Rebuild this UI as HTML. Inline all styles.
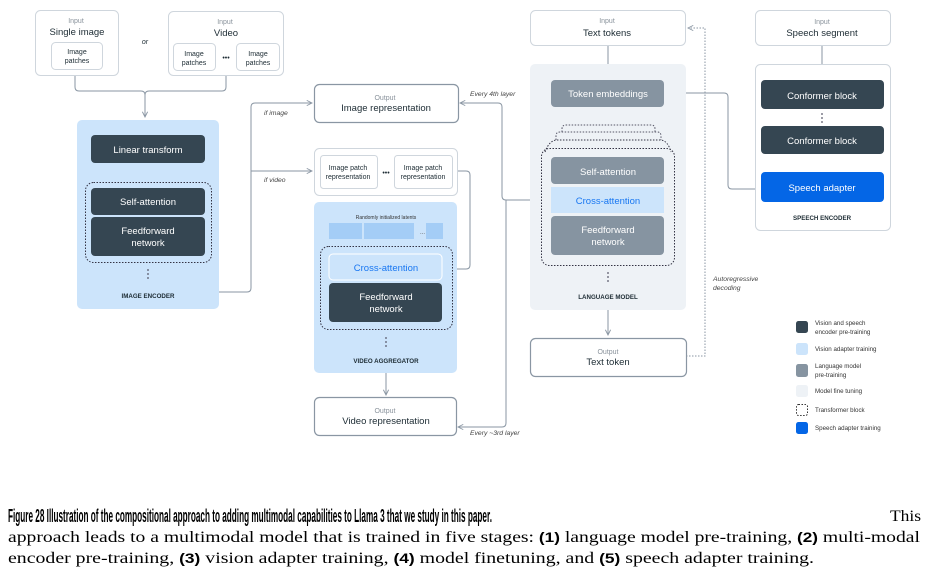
<!DOCTYPE html>
<html><head><meta charset="utf-8"><style>
html,body{margin:0;padding:0;background:#fff;}
svg{display:block;font-family:"Liberation Sans",sans-serif;}
</style></head><body>
<svg width="929" height="570" viewBox="0 0 929 570" xmlns="http://www.w3.org/2000/svg">
<defs>
<marker id="a" viewBox="0 0 8 8" refX="7" refY="4" markerWidth="7" markerHeight="7" orient="auto-start-reverse"><path d="M1,1 L7,4 L1,7" fill="none" stroke="#8a96a3" stroke-width="1"/></marker>
</defs>
<g fill="none" stroke="#8a96a3" stroke-width="1">
<path d="M75,75 V87 Q75,91 79,91 H141 Q145,91 145,95 V117" marker-end="url(#a)"/>
<path d="M226,75 V87 Q226,91 222,91 H149 Q145,91 145,95"/>
<path d="M219,292 H247 Q251,292 251,288 V107 Q251,103 255,103 H312" marker-end="url(#a)"/>
<path d="M251,171 H312" marker-end="url(#a)"/>
<path d="M457,171 H466 Q470,171 470,175 V265 Q470,269 466,269 H444" marker-end="url(#a)"/>
<path d="M386,373 V395" marker-end="url(#a)"/>
<path d="M549,200 H506 Q502,200 502,196 V107 Q502,103 498,103 H460" marker-end="url(#a)"/>
<path d="M506,200 V423 Q506,427 502,427 H458" marker-end="url(#a)"/>
<path d="M506,200 H549" marker-end="url(#a)"/>
<path d="M608,45 V77" marker-end="url(#a)"/>
<path d="M608,107 V120" marker-end="url(#a)"/>
<path d="M608,310 V335" marker-end="url(#a)"/>
<path d="M822,45 V77" marker-end="url(#a)"/>
<path d="M822,154 V169" marker-end="url(#a)"/>
<path d="M148,163 V178" marker-end="url(#a)"/>
<path d="M761,189 H732 Q728,189 728,185 V97 Q728,93 724,93 H666" marker-end="url(#a)"/>
<path d="M686,356 H705 V28 H688" stroke-dasharray="1.5,1.5" marker-end="url(#a)"/>
</g>
<g fill="#fff" stroke="#cfd6dd" stroke-width="1">
<rect x="35.5" y="10.5" width="83" height="65" rx="5"/>
<rect x="51.5" y="42.5" width="51" height="27" rx="4"/>
<rect x="168.5" y="11.5" width="115" height="64" rx="5"/>
<rect x="173.5" y="43.5" width="42" height="27" rx="4"/>
<rect x="236.5" y="43.5" width="43" height="27" rx="4"/>
<rect x="530.5" y="10.5" width="155" height="35" rx="5"/>
<rect x="755.5" y="10.5" width="135" height="35" rx="5"/>
<rect x="755.5" y="64.5" width="135" height="166" rx="5"/>
<rect x="314.5" y="148.5" width="143" height="47" rx="5"/>
<rect x="320.5" y="155.5" width="57" height="33" rx="3"/>
<rect x="394.5" y="155.5" width="58" height="33" rx="3"/>
</g>
<g fill="#fff" stroke="#8a96a3" stroke-width="1.2">
<rect x="314.5" y="84.5" width="144" height="38" rx="5"/>
<rect x="314.5" y="397.5" width="142" height="38" rx="5"/>
<rect x="530.5" y="338.5" width="156" height="38" rx="5"/>
</g>
<rect x="77" y="120" width="142" height="189" rx="5" fill="#cce4fb"/>
<rect x="314" y="202" width="143" height="171" rx="5" fill="#cce4fb"/>
<rect x="530" y="64" width="156" height="246" rx="5" fill="#eef2f6"/>
<rect x="91" y="135" width="114" height="28" rx="4" fill="#354652"/>
<rect x="85.5" y="182.5" width="126" height="80" rx="8" fill="none" stroke="#334" stroke-dasharray="1.5,1.5"/>
<rect x="91" y="188" width="114" height="27" rx="4" fill="#354652"/>
<rect x="91" y="217" width="114" height="39" rx="4" fill="#354652"/>
<rect x="329" y="223" width="33" height="16" fill="#a4cdf6"/>
<rect x="364" y="223" width="50" height="16" fill="#a4cdf6"/>
<rect x="426" y="223" width="17" height="16" fill="#a4cdf6"/>
<rect x="320.5" y="246.5" width="132" height="83" rx="8" fill="none" stroke="#334" stroke-dasharray="1.5,1.5"/>
<rect x="329" y="254" width="113" height="26" rx="4" fill="#cce4fb" stroke="#fff"/>
<rect x="329" y="283" width="113" height="39" rx="4" fill="#354652"/>
<rect x="551" y="80" width="113" height="27" rx="4" fill="#8694a1"/>
<path d="M562,132 V129 Q562,125 566,125 H651 Q655,125 655,129 V132" fill="none" stroke="#556" stroke-dasharray="1.5,1.5"/>
<path d="M556,140 V136 Q556,132 560,132 H657 Q661,132 661,136 V140" fill="none" stroke="#556" stroke-dasharray="1.5,1.5"/>
<rect x="541.5" y="148.5" width="133" height="117" rx="8" fill="none" stroke="#334" stroke-dasharray="1.5,1.5"/>
<path d="M545,152 Q549,141 556,140 H661 Q668,141 671,152" fill="none" stroke="#334" stroke-dasharray="1.5,1.5"/>
<rect x="551" y="157" width="113" height="27" rx="4" fill="#8694a1"/>
<rect x="551" y="187" width="113" height="26" fill="#cce4fb"/>
<rect x="551" y="216" width="113" height="39" rx="4" fill="#8694a1"/>
<rect x="761" y="80" width="123" height="29" rx="4" fill="#354652"/>
<rect x="761" y="126" width="123" height="28" rx="4" fill="#354652"/>
<rect x="761" y="172" width="123" height="30" rx="4" fill="#0466e6"/>
<g fill="#556">
<circle cx="148" cy="270" r="0.9"/><circle cx="148" cy="274" r="0.9"/><circle cx="148" cy="278" r="0.9"/>
<circle cx="386" cy="338" r="0.9"/><circle cx="386" cy="342" r="0.9"/><circle cx="386" cy="346" r="0.9"/>
<circle cx="608" cy="273" r="0.9"/><circle cx="608" cy="277" r="0.9"/><circle cx="608" cy="281" r="0.9"/>
<circle cx="822" cy="114" r="0.9"/><circle cx="822" cy="118" r="0.9"/><circle cx="822" cy="122" r="0.9"/>
</g>
<g text-anchor="middle" fill="#8a939c" font-size="7">
<text x="76" y="23">Input</text><text x="225" y="24">Input</text>
<text x="607" y="23">Input</text><text x="822" y="24">Input</text>
<text x="385" y="100">Output</text><text x="385" y="413">Output</text><text x="608" y="354">Output</text>
</g>
<g text-anchor="middle" fill="#1c2b33" font-size="9.5">
<text x="77" y="35">Single image</text><text x="226" y="36">Video</text>
<text x="607" y="36">Text tokens</text><text x="822" y="36">Speech segment</text>
<text x="386" y="111">Image representation</text><text x="386" y="424">Video representation</text>
<text x="608" y="365">Text token</text>
</g>
<g text-anchor="middle" fill="#1c2b33" font-size="7">
<text x="77" y="54">Image</text><text x="77" y="63">patches</text>
<text x="194" y="56">Image</text><text x="194" y="65">patches</text>
<text x="258" y="56">Image</text><text x="258" y="65">patches</text>
<text x="348" y="170">Image patch</text><text x="348" y="179">representation</text>
<text x="423" y="170">Image patch</text><text x="423" y="179">representation</text>
<text x="145" y="44" font-style="italic">or</text>
<text x="226" y="60">•••</text><text x="386" y="175">•••</text>
</g>
<g text-anchor="middle" fill="#fff" font-size="9.5">
<text x="148" y="153">Linear transform</text>
<text x="148" y="205">Self-attention</text>
<text x="148" y="234">Feedforward</text><text x="148" y="246">network</text>
<text x="386" y="300">Feedforward</text><text x="386" y="312">network</text>
<text x="608" y="97">Token embeddings</text>
<text x="608" y="175">Self-attention</text>
<text x="608" y="233">Feedforward</text><text x="608" y="245">network</text>
<text x="822" y="99">Conformer block</text>
<text x="822" y="144">Conformer block</text>
<text x="822" y="191">Speech adapter</text>
</g>
<g text-anchor="middle" fill="#1877f2" font-size="9.5">
<text x="386" y="271">Cross-attention</text>
<text x="608" y="204">Cross-attention</text>
</g>
<g text-anchor="middle" fill="#1c2b33" font-size="6.2" font-weight="bold">
<text x="148" y="298">IMAGE ENCODER</text>
<text x="386" y="363">VIDEO AGGREGATOR</text>
<text x="608" y="299">LANGUAGE MODEL</text>
<text x="822" y="220">SPEECH ENCODER</text>
</g>
<text x="386" y="219" text-anchor="middle" font-size="5" fill="#333">Randomly initialized latents</text>
<text x="420" y="234" font-size="6" fill="#555">...</text>
<g fill="#444" font-size="6.8" font-style="italic">
<text x="264" y="115">if image</text><text x="264" y="182">if video</text>
<text x="470" y="96">Every 4th layer</text><text x="470" y="435">Every ~3rd layer</text>
<text x="713" y="281">Autoregressive</text><text x="713" y="290">decoding</text>
</g>
<rect x="796" y="321" width="12" height="12" rx="2.5" fill="#354652"/>
<rect x="796" y="343" width="12" height="12" rx="2.5" fill="#cce4fb"/>
<rect x="796" y="364" width="12" height="13" rx="2.5" fill="#8694a1"/>
<rect x="796" y="385" width="12" height="12" rx="2.5" fill="#eef2f6"/>
<rect x="796.5" y="404.5" width="11" height="11" rx="2" fill="none" stroke="#333" stroke-dasharray="1.5,1.5"/>
<rect x="796" y="422" width="12" height="12" rx="2.5" fill="#0466e6"/>
<g fill="#333" font-size="6.2">
<text x="815" y="325">Vision and speech</text><text x="815" y="334">encoder pre-training</text>
<text x="815" y="351">Vision adapter training</text>
<text x="815" y="368">Language model</text><text x="815" y="377">pre-training</text>
<text x="815" y="393">Model fine tuning</text>
<text x="815" y="412">Transformer block</text>
<text x="815" y="430">Speech adapter training</text>
</g>
<text x="8" y="522" font-size="18" font-weight="bold" fill="#000" textLength="484" lengthAdjust="spacingAndGlyphs">Figure 28  Illustration of the compositional approach to adding multimodal capabilities to Llama 3 that we study in this paper.</text>
<g font-family="'Liberation Serif',serif" font-size="16" fill="#000">
<text x="890" y="521" textLength="31" lengthAdjust="spacingAndGlyphs">This</text>
<text x="8" y="542" textLength="912" lengthAdjust="spacingAndGlyphs">approach leads to a multimodal model that is trained in five stages: <tspan font-family="'Liberation Sans',sans-serif" font-weight="bold" font-size="14">(1)</tspan> language model pre-training, <tspan font-family="'Liberation Sans',sans-serif" font-weight="bold" font-size="14">(2)</tspan> multi-modal</text>
<text x="8" y="563" textLength="806" lengthAdjust="spacingAndGlyphs">encoder pre-training, <tspan font-family="'Liberation Sans',sans-serif" font-weight="bold" font-size="14">(3)</tspan> vision adapter training, <tspan font-family="'Liberation Sans',sans-serif" font-weight="bold" font-size="14">(4)</tspan> model finetuning, and <tspan font-family="'Liberation Sans',sans-serif" font-weight="bold" font-size="14">(5)</tspan> speech adapter training.</text>
</g>
</svg>
</body></html>
